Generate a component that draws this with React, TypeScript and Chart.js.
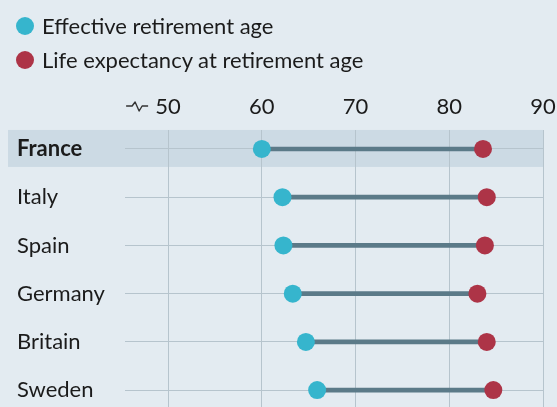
import React, { useEffect, useRef } from 'react';
import { Chart, registerables } from 'chart.js';
Chart.register(...registerables);

const countries = ['France', 'Italy', 'Spain', 'Germany', 'Britain', 'Sweden'];
const retirementAge = [60.0, 62.2, 62.3, 63.3, 64.7, 65.9];
const lifeExpectancy = [83.6, 84.0, 83.8, 83.0, 84.0, 84.7];
const xTicks = [50, 60, 70, 80, 90];
const legendLabels = ['Effective retirement age', 'Life expectancy at retirement age'];

const FONT = 'Lato, "Open Sans", sans-serif';
const FS = 22;
const BG = '#e3ebf1';
const BAND = '#ccdae4';
const GRID = '#b6c4cd';
const BLUE = '#36b5cd';
const RED = '#ad3447';
const CONNECT = '#5b7a88';
const TEXT = '#1b1b1b';

const decorPlugin = {
  id: 'decor',
  beforeDraw(chart: any) {
    const { ctx, chartArea, scales } = chart;
    const y0 = scales.y.getPixelForValue(0);
    ctx.save();
    ctx.fillStyle = BAND;
    ctx.fillRect(8, y0 - 19, chartArea.right - 8, 37);
    ctx.restore();
  },
  afterDraw(chart: any) {
    const { ctx, scales } = chart;
    const p = scales.x.getPixelForValue(xTicks[0]);
    const y = 106;
    ctx.save();
    ctx.strokeStyle = '#333';
    ctx.lineWidth = 1.4;
    ctx.lineJoin = 'round';
    ctx.beginPath();
    ctx.moveTo(p - 42, y);
    ctx.lineTo(p - 36, y);
    ctx.lineTo(p - 33, y - 4);
    ctx.lineTo(p - 29, y + 5);
    ctx.lineTo(p - 26, y);
    ctx.lineTo(p - 20, y);
    ctx.stroke();
    ctx.restore();
  },
};

export default function App() {
  const ref = useRef<HTMLCanvasElement>(null);
  useEffect(() => {
    if (!ref.current) return;
    const chart = new Chart(ref.current, {
      type: 'scatter',
      data: {
        datasets: [
          {
            type: 'scatter',
            label: legendLabels[0],
            data: countries.map((_, i) => ({ x: retirementAge[i], y: i })),
            backgroundColor: BLUE,
            borderWidth: 0,
            pointRadius: 9,
            order: 0,
          },
          {
            type: 'scatter',
            label: legendLabels[1],
            data: countries.map((_, i) => ({ x: lifeExpectancy[i], y: i })),
            backgroundColor: RED,
            borderWidth: 0,
            pointRadius: 9,
            order: 0,
          },
          {
            type: 'bar',
            indexAxis: 'y',
            label: 'range',
            data: countries.map((_, i) => ({ x: [retirementAge[i], lifeExpectancy[i]], y: i })) as any,
            backgroundColor: CONNECT,
            barThickness: 4,
            order: 1,
          } as any,
        ],
      },
      options: {
        responsive: false,
        animation: false,
        events: [],
        layout: { autoPadding: false, padding: { left: 17, right: 14, top: 0, bottom: 0 } },
        plugins: { legend: { display: false }, tooltip: { enabled: false } },
        scales: {
          x: {
            type: 'linear',
            position: 'top',
            offset: false,
            min: 45.4,
            max: 90,
            afterBuildTicks: (s: any) => { s.ticks = xTicks.map((v) => ({ value: v })); },
            afterFit: (s: any) => { s.height = 130; s.paddingLeft = 0; s.paddingRight = 0; },
            grid: { color: GRID, lineWidth: 1, drawTicks: false, offset: false },
            border: { display: false },
            ticks: {
              padding: 10,
              color: TEXT,
              font: { family: FONT, size: FS },
              callback: (v: any) => String(v),
            },
          },
          y: {
            type: 'linear',
            reverse: true,
            offset: false,
            min: -0.393,
            max: 5.35,
            afterBuildTicks: (s: any) => { s.ticks = countries.map((_, i) => ({ value: i })); },
            afterFit: (s: any) => { s.width = 108; s.paddingTop = 0; s.paddingBottom = 0; },
            grid: { color: GRID, lineWidth: 1, drawTicks: false, offset: false },
            border: { display: false },
            ticks: {
              crossAlign: 'far',
              color: TEXT,
              font: (c: any) => ({ family: FONT, size: FS, weight: c.tick && c.tick.value === 0 ? 'bold' : 'normal' }),
              callback: (v: any) => countries[v] ?? '',
            },
          },
        },
      },
      plugins: [decorPlugin],
    } as any);
    return () => chart.destroy();
  }, []);

  const dot = (color: string, top: number) => ({
    position: 'absolute' as const,
    left: 16,
    top,
    width: 18,
    height: 18,
    borderRadius: '50%',
    background: color,
  });
  const txt = (top: number) => ({
    position: 'absolute' as const,
    left: 42,
    top,
    fontFamily: FONT,
    fontSize: FS,
    lineHeight: '28px',
    color: TEXT,
    whiteSpace: 'nowrap' as const,
  });

  return (
    <div style={{ position: 'fixed', left: 0, top: 0, width: 557, height: 407, background: BG, overflow: 'hidden' }}>
      <canvas ref={ref} width={557} height={407} style={{ position: 'absolute', left: 0, top: 0 }} />
      <span style={dot(BLUE, 17)} />
      <div style={txt(12)}>{legendLabels[0]}</div>
      <span style={dot(RED, 51)} />
      <div style={txt(46)}>{legendLabels[1]}</div>
    </div>
  );
}
